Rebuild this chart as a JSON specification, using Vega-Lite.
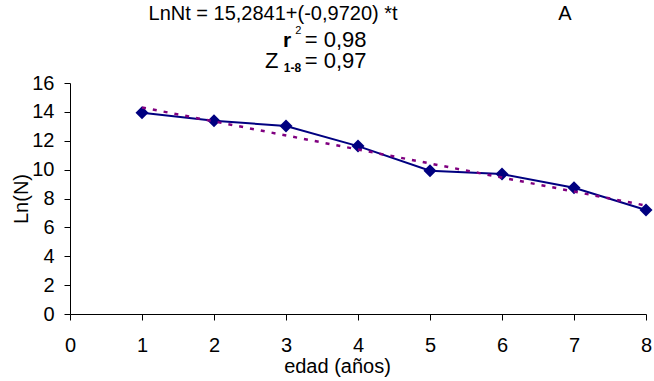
{
  "$schema": "https://vega.github.io/schema/vega-lite/v6.json",
  "width": 576,
  "height": 231,
  "autosize": {"type": "none"},
  "padding": {"left": 70, "top": 83, "right": 8, "bottom": 67},
  "background": "white",
  "config": {
    "view": {"stroke": null},
    "font": "Liberation Sans",
    "text": {"font": "Liberation Sans", "color": "#000000"},
    "axis": {
      "grid": false,
      "domainColor": "#000000",
      "domainWidth": 1,
      "tickColor": "#000000",
      "tickSize": 6,
      "labelColor": "#000000",
      "titleColor": "#000000",
      "labelFont": "Liberation Sans",
      "titleFont": "Liberation Sans",
      "labelFontSize": 20,
      "titleFontSize": 20,
      "titleFontWeight": "normal",
      "labelFlush": false,
      "labelOverlap": false
    }
  },
  "datasets": {
    "obs": [
      {"edad": 1, "lnN": 13.94},
      {"edad": 2, "lnN": 13.39},
      {"edad": 3, "lnN": 13.02},
      {"edad": 4, "lnN": 11.63},
      {"edad": 5, "lnN": 9.92},
      {"edad": 6, "lnN": 9.69},
      {"edad": 7, "lnN": 8.75},
      {"edad": 8, "lnN": 7.2}
    ],
    "trend": [
      {"edad": 1, "lnN": 14.31},
      {"edad": 8, "lnN": 7.51}
    ]
  },
  "layer": [
    {
      "data": {"name": "obs"},
      "mark": {
        "type": "line",
        "color": "#000080",
        "strokeWidth": 2,
        "point": {"shape": "diamond", "size": 170, "filled": true, "color": "#000080", "opacity": 1}
      },
      "encoding": {
        "x": {
          "field": "edad",
          "type": "quantitative",
          "scale": {"domain": [0, 8], "nice": false, "zero": false},
          "axis": {"title": "edad (años)", "values": [0, 1, 2, 3, 4, 5, 6, 7, 8], "format": "d", "labelPadding": 15, "titlePadding": 1, "titleX": 267}
        },
        "y": {
          "field": "lnN",
          "type": "quantitative",
          "scale": {"domain": [0, 16], "nice": false},
          "axis": {"title": "Ln(N)", "values": [0, 2, 4, 6, 8, 10, 12, 14, 16], "format": "d", "labelPadding": 10, "titlePadding": 0}
        }
      }
    },
    {
      "data": {"name": "trend"},
      "mark": {"type": "line", "color": "#800080", "strokeWidth": 2.5, "strokeDash": [4, 7]},
      "encoding": {
        "x": {"field": "edad", "type": "quantitative", "axis": {"title": "edad (años)", "values": [0, 1, 2, 3, 4, 5, 6, 7, 8], "format": "d", "labelPadding": 15, "titlePadding": 1, "titleX": 267}},
        "y": {"field": "lnN", "type": "quantitative", "axis": {"title": "Ln(N)", "values": [0, 2, 4, 6, 8, 10, 12, 14, 16], "format": "d", "labelPadding": 10, "titlePadding": 0}}
      }
    },
    {
      "data": {"values": [{"label": "LnNt = 15,2841+(-0,9720) *t"}]},
      "mark": {"type": "text", "align": "center", "baseline": "alphabetic", "fontSize": 20},
      "encoding": {
        "x": {"datum": 2.82, "axis": {"title": "edad (años)", "values": [0, 1, 2, 3, 4, 5, 6, 7, 8], "format": "d", "labelPadding": 15, "titlePadding": 1, "titleX": 267}},
        "y": {"datum": 20.33, "axis": {"title": "Ln(N)", "values": [0, 2, 4, 6, 8, 10, 12, 14, 16], "format": "d", "labelPadding": 10, "titlePadding": 0}},
        "text": {"field": "label"}
      }
    },
    {
      "data": {"values": [{"label": "A"}]},
      "mark": {"type": "text", "align": "center", "baseline": "alphabetic", "fontSize": 20},
      "encoding": {
        "x": {"datum": 6.875, "axis": {"title": "edad (años)", "values": [0, 1, 2, 3, 4, 5, 6, 7, 8], "format": "d", "labelPadding": 15, "titlePadding": 1, "titleX": 267}},
        "y": {"datum": 20.33, "axis": {"title": "Ln(N)", "values": [0, 2, 4, 6, 8, 10, 12, 14, 16], "format": "d", "labelPadding": 10, "titlePadding": 0}},
        "text": {"field": "label"}
      }
    },
    {
      "data": {"values": [{"label": "r"}]},
      "mark": {"type": "text", "align": "left", "baseline": "alphabetic", "fontSize": 21, "fontWeight": "bold"},
      "encoding": {
        "x": {"datum": 2.958, "axis": {"title": "edad (años)", "values": [0, 1, 2, 3, 4, 5, 6, 7, 8], "format": "d", "labelPadding": 15, "titlePadding": 1, "titleX": 267}},
        "y": {"datum": 18.46, "axis": {"title": "Ln(N)", "values": [0, 2, 4, 6, 8, 10, 12, 14, 16], "format": "d", "labelPadding": 10, "titlePadding": 0}},
        "text": {"field": "label"}
      }
    },
    {
      "data": {"values": [{"label": "2"}]},
      "mark": {"type": "text", "align": "left", "baseline": "alphabetic", "fontSize": 11},
      "encoding": {
        "x": {"datum": 3.13, "axis": {"title": "edad (años)", "values": [0, 1, 2, 3, 4, 5, 6, 7, 8], "format": "d", "labelPadding": 15, "titlePadding": 1, "titleX": 267}},
        "y": {"datum": 19.38, "axis": {"title": "Ln(N)", "values": [0, 2, 4, 6, 8, 10, 12, 14, 16], "format": "d", "labelPadding": 10, "titlePadding": 0}},
        "text": {"field": "label"}
      }
    },
    {
      "data": {"values": [{"label": "= 0,98"}]},
      "mark": {"type": "text", "align": "left", "baseline": "alphabetic", "fontSize": 22},
      "encoding": {
        "x": {"datum": 3.26, "axis": {"title": "edad (años)", "values": [0, 1, 2, 3, 4, 5, 6, 7, 8], "format": "d", "labelPadding": 15, "titlePadding": 1, "titleX": 267}},
        "y": {"datum": 18.46, "axis": {"title": "Ln(N)", "values": [0, 2, 4, 6, 8, 10, 12, 14, 16], "format": "d", "labelPadding": 10, "titlePadding": 0}},
        "text": {"field": "label"}
      }
    },
    {
      "data": {"values": [{"label": "Z"}]},
      "mark": {"type": "text", "align": "left", "baseline": "alphabetic", "fontSize": 22},
      "encoding": {
        "x": {"datum": 2.71, "axis": {"title": "edad (años)", "values": [0, 1, 2, 3, 4, 5, 6, 7, 8], "format": "d", "labelPadding": 15, "titlePadding": 1, "titleX": 267}},
        "y": {"datum": 17.01, "axis": {"title": "Ln(N)", "values": [0, 2, 4, 6, 8, 10, 12, 14, 16], "format": "d", "labelPadding": 10, "titlePadding": 0}},
        "text": {"field": "label"}
      }
    },
    {
      "data": {"values": [{"label": "1-8"}]},
      "mark": {"type": "text", "align": "left", "baseline": "alphabetic", "fontSize": 12, "fontWeight": "bold"},
      "encoding": {
        "x": {"datum": 2.97, "axis": {"title": "edad (años)", "values": [0, 1, 2, 3, 4, 5, 6, 7, 8], "format": "d", "labelPadding": 15, "titlePadding": 1, "titleX": 267}},
        "y": {"datum": 16.74, "axis": {"title": "Ln(N)", "values": [0, 2, 4, 6, 8, 10, 12, 14, 16], "format": "d", "labelPadding": 10, "titlePadding": 0}},
        "text": {"field": "label"}
      }
    },
    {
      "data": {"values": [{"label": "= 0,97"}]},
      "mark": {"type": "text", "align": "left", "baseline": "alphabetic", "fontSize": 22},
      "encoding": {
        "x": {"datum": 3.26, "axis": {"title": "edad (años)", "values": [0, 1, 2, 3, 4, 5, 6, 7, 8], "format": "d", "labelPadding": 15, "titlePadding": 1, "titleX": 267}},
        "y": {"datum": 17.01, "axis": {"title": "Ln(N)", "values": [0, 2, 4, 6, 8, 10, 12, 14, 16], "format": "d", "labelPadding": 10, "titlePadding": 0}},
        "text": {"field": "label"}
      }
    }
  ]
}
